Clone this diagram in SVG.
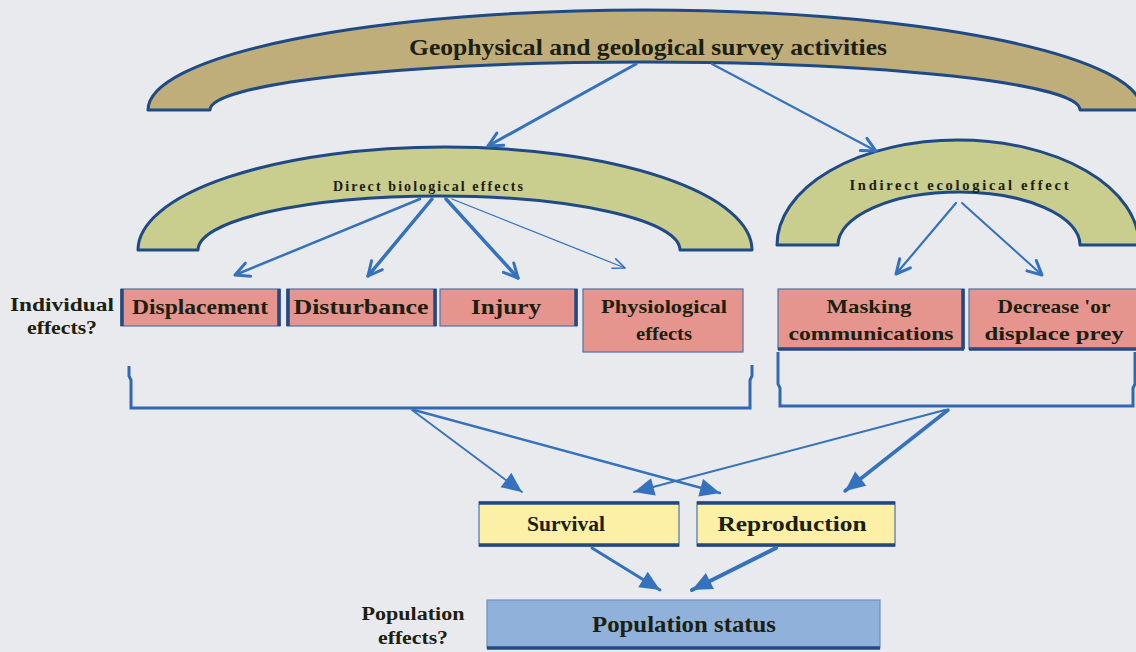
<svg xmlns="http://www.w3.org/2000/svg" width="1136" height="652" viewBox="0 0 1136 652">
<style>
.t{font-family:"Liberation Serif",serif;font-weight:bold;fill:#1c2010}
.arch{stroke:#1f4a85;stroke-width:3;stroke-linejoin:round}
.ar{fill:none;stroke:#3572bd;stroke-linecap:round}
.box{fill:#e5958d;stroke:#4f72a8;stroke-width:1.2}
.edge{stroke:#23497f;stroke-width:3.5}
.yb{fill:#fbf0a6;stroke:#4f72a8;stroke-width:1.2}
.br{fill:none;stroke:#3068b4;stroke-width:3}
</style>
<defs>
<marker id="v" markerUnits="userSpaceOnUse" markerWidth="20" markerHeight="20" viewBox="0 0 20 20" refX="18" refY="10" orient="auto">
<path d="M4,3 L18,10 L4,17" fill="none" stroke="#3572bd" stroke-width="3" stroke-linecap="round" stroke-linejoin="round"/>
</marker>
<marker id="vt" markerUnits="userSpaceOnUse" markerWidth="20" markerHeight="20" viewBox="0 0 20 20" refX="18" refY="10" orient="auto">
<path d="M6,5 L18,10 L6,15" fill="none" stroke="#3572bd" stroke-width="1.6" stroke-linecap="round" stroke-linejoin="round"/>
</marker>
<marker id="f" markerUnits="userSpaceOnUse" markerWidth="24" markerHeight="24" viewBox="0 0 24 24" refX="22" refY="12" orient="auto">
<path d="M2,3 L22,12 L2,21 Z" fill="#3572bd"/>
</marker>
</defs>
<rect width="1136" height="652" fill="#e9eaee"/>

<g id="survey">
<path class="arch" fill="#bfae7a" d="M148,110 A497,100 0 0 1 1142,110 L1080,110 A435,48 0 0 0 210,110 Z"/>
<text class="t" x="648" y="55" font-size="23" text-anchor="middle" textLength="478" lengthAdjust="spacingAndGlyphs">Geophysical and geological survey activities</text>
</g>

<g id="direct">
<path class="arch" fill="#c9cd8e" d="M138,250 A307,103 0 0 1 752,250 L680,250 A241,54 0 0 0 198,250 Z"/>
<text class="t" x="428" y="191" font-size="14" text-anchor="middle" textLength="190" lengthAdjust="spacing">Direct biological effects</text>
</g>

<g id="indirect">
<path class="arch" fill="#c9cd8e" d="M777,245 A181,105 0 0 1 1139,245 L1080,245 A121,53 0 0 0 838,245 Z"/>
<text class="t" x="959" y="190" font-size="14.5" text-anchor="middle" textLength="219" lengthAdjust="spacing">Indirect ecological effect</text>
</g>

<g id="individual-label">
<text class="t" x="62" y="311" font-size="19" text-anchor="middle" textLength="104" lengthAdjust="spacingAndGlyphs">Individual</text>
<text class="t" x="62" y="334" font-size="19" text-anchor="middle" textLength="70" lengthAdjust="spacingAndGlyphs">effects?</text>
</g>

<g id="displacement">
<rect class="box" x="121" y="289" width="159" height="37"/>
<line class="edge" x1="122" y1="289" x2="122" y2="326"/>
<line class="edge" x1="279" y1="289" x2="279" y2="326"/>
<text class="t" x="200" y="314" font-size="20" text-anchor="middle" textLength="136" lengthAdjust="spacingAndGlyphs">Displacement</text>
</g>
<g id="disturbance">
<rect class="box" x="287" y="289" width="149" height="37"/>
<line class="edge" x1="288" y1="289" x2="288" y2="326"/>
<line class="edge" x1="435" y1="289" x2="435" y2="326"/>
<text class="t" x="361" y="314" font-size="20" text-anchor="middle" textLength="135" lengthAdjust="spacingAndGlyphs">Disturbance</text>
</g>
<g id="injury">
<rect class="box" x="440" y="289" width="137" height="37"/>
<line class="edge" x1="576" y1="289" x2="576" y2="326"/>
<text class="t" x="506" y="314" font-size="20" text-anchor="middle" textLength="70" lengthAdjust="spacingAndGlyphs">Injury</text>
</g>
<g id="physiological">
<rect class="box" x="583" y="289" width="160" height="63"/>
<text class="t" x="664" y="313" font-size="19" text-anchor="middle" textLength="126" lengthAdjust="spacingAndGlyphs">Physiological</text>
<text class="t" x="664" y="340" font-size="19" text-anchor="middle" textLength="56" lengthAdjust="spacingAndGlyphs">effects</text>
</g>
<g id="masking">
<rect class="box" x="778" y="289" width="186" height="60"/>
<line class="edge" x1="963" y1="289" x2="963" y2="349"/>
<line class="edge" x1="778" y1="349" x2="964" y2="349"/>
<text class="t" x="869" y="313" font-size="19" text-anchor="middle" textLength="85" lengthAdjust="spacingAndGlyphs">Masking</text>
<text class="t" x="871" y="340" font-size="19" text-anchor="middle" textLength="165" lengthAdjust="spacingAndGlyphs">communications</text>
</g>
<g id="prey">
<rect class="box" x="969" y="289" width="170" height="60"/>
<line class="edge" x1="969" y1="349" x2="1139" y2="349"/>
<text class="t" x="1054" y="313" font-size="19" text-anchor="middle" textLength="113" lengthAdjust="spacingAndGlyphs">Decrease 'or</text>
<text class="t" x="1054" y="340" font-size="19" text-anchor="middle" textLength="139" lengthAdjust="spacingAndGlyphs">displace prey</text>
</g>

<g id="brackets">
<path class="br" d="M129,366 L129,376 L131,380 L131,408 L750,408 L750,380 L752,376 L752,365"/>
<path class="br" d="M778,352 L778,384 L780,388 L780,406 L1133,406 L1133,388 L1135,384 L1135,352"/>
</g>

<g id="survival">
<rect class="yb" x="479" y="502" width="200" height="44"/>
<line class="edge" x1="479" y1="503" x2="679" y2="503"/>
<line class="edge" x1="479" y1="545" x2="679" y2="545"/>
<text class="t" x="566" y="531" font-size="21" text-anchor="middle" textLength="78" lengthAdjust="spacingAndGlyphs">Survival</text>
</g>
<g id="reproduction">
<rect class="yb" x="697" y="502" width="198" height="44"/>
<line class="edge" x1="697" y1="503" x2="895" y2="503"/>
<line class="edge" x1="697" y1="545" x2="895" y2="545"/>
<text class="t" x="792" y="531" font-size="21" text-anchor="middle" textLength="149" lengthAdjust="spacingAndGlyphs">Reproduction</text>
</g>

<g id="population-label">
<text class="t" x="413" y="620" font-size="18" text-anchor="middle" textLength="103" lengthAdjust="spacingAndGlyphs">Population</text>
<text class="t" x="413" y="644" font-size="18" text-anchor="middle" textLength="70" lengthAdjust="spacingAndGlyphs">effects?</text>
</g>
<g id="population">
<rect x="487" y="600" width="393" height="48" fill="#8fb1da" stroke="#6f90c0" stroke-width="1.2"/>
<line class="edge" x1="487" y1="648" x2="880" y2="648"/>
<text class="t" x="684" y="632" font-size="23" text-anchor="middle" textLength="184" lengthAdjust="spacingAndGlyphs">Population status</text>
</g>

<g id="connectors">
<line class="ar" x1="636" y1="64" x2="488" y2="146" stroke-width="3" marker-end="url(#v)"/>
<line class="ar" x1="712" y1="64" x2="876" y2="151" stroke-width="2.2" marker-end="url(#v)"/>
<line class="ar" x1="420" y1="199" x2="235" y2="275" stroke-width="2.5" marker-end="url(#v)"/>
<line class="ar" x1="432" y1="199" x2="368" y2="276" stroke-width="3.5" marker-end="url(#v)"/>
<line class="ar" x1="446" y1="199" x2="518" y2="278" stroke-width="3.5" marker-end="url(#v)"/>
<line class="ar" x1="452" y1="199" x2="625" y2="268" stroke-width="1.3" marker-end="url(#vt)"/>
<line class="ar" x1="956" y1="203" x2="896" y2="274" stroke-width="2.2" marker-end="url(#v)"/>
<line class="ar" x1="962" y1="203" x2="1042" y2="275" stroke-width="2" marker-end="url(#v)"/>
<line class="ar" x1="412" y1="410" x2="522" y2="492" stroke-width="1.8" marker-end="url(#f)"/>
<line class="ar" x1="414" y1="410" x2="720" y2="493" stroke-width="2.4" marker-end="url(#f)"/>
<line class="ar" x1="945" y1="410" x2="634" y2="492" stroke-width="2" marker-end="url(#f)"/>
<line class="ar" x1="948" y1="410" x2="845" y2="491" stroke-width="3.5" marker-end="url(#f)"/>
<line class="ar" x1="592" y1="548" x2="660" y2="590" stroke-width="3" marker-end="url(#f)"/>
<line class="ar" x1="776" y1="548" x2="692" y2="590" stroke-width="4" marker-end="url(#f)"/>
</g>
</svg>
